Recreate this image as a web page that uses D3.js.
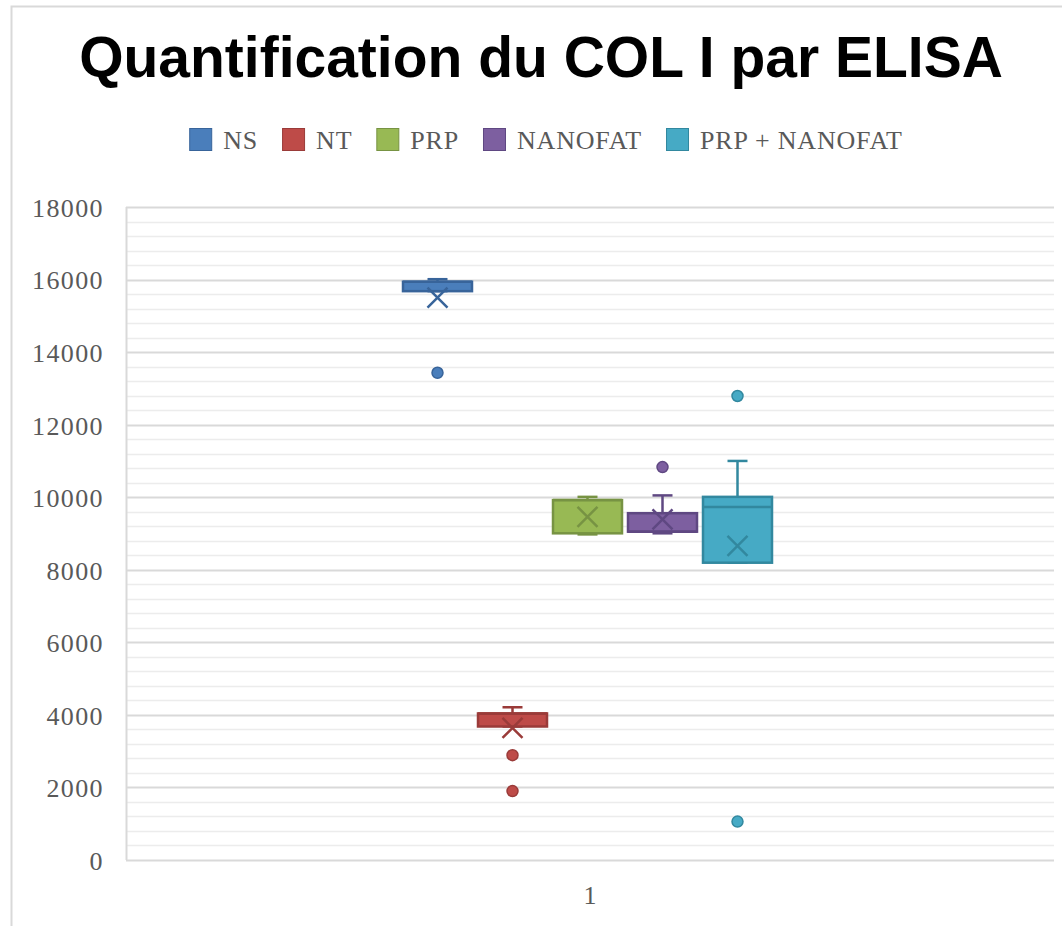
<!DOCTYPE html>
<html>
<head>
<meta charset="utf-8">
<script src="https://cdn.jsdelivr.net/npm/d3@7"></script>
<style>
  body { margin: 0; background: #fff; }
  .axis text { font-family: "Liberation Serif", serif; fill: #595959; }
</style>
</head>
<body>
<script>
var categories = ["1"];
var series = ["NS", "NT", "PRP", "NANOFAT", "PRP + NANOFAT"];
var colors = ["#4A7EBB", "#BE4B48", "#98B954", "#7D5FA0", "#46AAC5"];
var strokes = ["#38649A", "#9A3B39", "#779343", "#5F4882", "#32889F"];

// box stats
var mins    = [15680, 3680, 8975, 9005, 8195];
var q1s     = [15680, 3680, 9005, 9050, 8195];
var medians = [15940, 4040, 9920, 9050, 9730];
var q3s     = [15940, 4040, 9920, 9560, 10010];
var maxs    = [16010, 4210, 10010, 10050, 11000];
var means   = [15500, 3640, 9460, 9390, 8660];
var outliers = [[13430], [2890, 1900], [], [10830], [12790, 1060]];

var yTicks = [0, 2000, 4000, 6000, 8000, 10000, 12000, 14000, 16000, 18000];

var W = 1062, H = 926;
var margin = {top: 207, right: 8, bottom: 66, left: 126},
    width = W - margin.left - margin.right,
    height = H - margin.top - margin.bottom;

var svg = d3.select("body").append("svg")
    .attr("width", W)
    .attr("height", H);

// outer chart border
svg.append("rect")
    .attr("x", 11.5).attr("y", 6.5)
    .attr("width", W).attr("height", H)
    .attr("fill", "none")
    .attr("stroke", "#d9d9d9")
    .attr("stroke-width", 2);

svg.append("text")
    .attr("x", 541)
    .attr("y", 77)
    .attr("text-anchor", "middle")
    .style("font-family", "'Liberation Sans', Arial, sans-serif")
    .style("font-weight", "bold")
    .style("font-size", "57px")
    .text("Quantification du COL I par ELISA");

// legend
var legend = svg.append("g").attr("class", "legend");
var lx = 0;
series.forEach(function(s, i) {
  var item = legend.append("g").attr("transform", "translate(" + lx + ",0)");
  item.append("rect")
    .attr("x", 0.5).attr("y", 128.5)
    .attr("width", 22).attr("height", 22)
    .attr("fill", colors[i])
    .attr("stroke", strokes[i]);
  var t = item.append("text")
    .attr("x", 34)
    .attr("y", 149)
    .style("font-family", "'Liberation Serif', serif")
    .style("font-size", "26px")
    .style("letter-spacing", "0.8px")
    .style("fill", "#595959")
    .text(s);
  lx += 34 + t.node().getComputedTextLength() + 24;
});
legend.attr("transform", "translate(" + (546 - (lx - 24) / 2) + ",0)");

var g = svg.append("g")
    .attr("transform", "translate(" + margin.left + "," + margin.top + ")");

var y = d3.scaleLinear()
    .domain([0, 18000])
    .range([height, 0]);

var x = d3.scaleBand()
    .domain(categories)
    .range([0, width]);

var xs = d3.scaleBand()
    .domain(series)
    .range([x("1") + x.bandwidth() / 2 - 187, x("1") + x.bandwidth() / 2 + 182])
    .paddingInner(0.08)
    .paddingOuter(0);

// minor + major gridlines
g.append("g")
  .selectAll("line")
  .data(d3.range(400, 18001, 400).filter(function(v) { return v % 2000 != 0; }))
  .enter().append("line")
    .attr("x1", 0).attr("x2", width)
    .attr("y1", function(d) { return Math.round(y(d)) + 0.5; })
    .attr("y2", function(d) { return Math.round(y(d)) + 0.5; })
    .attr("stroke", "#ececec")
    .attr("stroke-width", 1.5);

g.append("g")
  .selectAll("line")
  .data(yTicks.slice(1))
  .enter().append("line")
    .attr("x1", 0).attr("x2", width)
    .attr("y1", function(d) { return Math.round(y(d)) + 0.5; })
    .attr("y2", function(d) { return Math.round(y(d)) + 0.5; })
    .attr("stroke", "#d9d9d9")
    .attr("stroke-width", 2);

// axis lines
g.append("line")
    .attr("x1", 0.5).attr("x2", 0.5)
    .attr("y1", 0).attr("y2", height)
    .attr("stroke", "#d9d9d9").attr("stroke-width", 2);
g.append("line")
    .attr("x1", 0).attr("x2", width)
    .attr("y1", height + 0.5).attr("y2", height + 0.5)
    .attr("stroke", "#d9d9d9").attr("stroke-width", 2);

var yAxis = d3.axisLeft(y)
    .tickValues(yTicks)
    .tickSize(0)
    .tickPadding(22)
    .tickFormat(d3.format("d"));

g.append("g")
    .attr("class", "axis")
    .call(yAxis)
    .call(function(s) { s.select(".domain").remove(); })
    .selectAll("text")
      .style("font-size", "26px")
      .style("letter-spacing", "1.4px")
      .attr("dy", "0.36em");

var xAxis = d3.axisBottom(x).tickSize(0).tickPadding(26);
g.append("g")
    .attr("class", "axis")
    .attr("transform", "translate(0," + height + ")")
    .call(xAxis)
    .call(function(s) { s.select(".domain").remove(); })
    .selectAll("text")
      .style("font-size", "26px");

// boxes
var capW = 20, xSize = 10;
series.forEach(function(s, i) {
  var bx = xs(s), bw = xs.bandwidth(), cx = bx + bw / 2;
  var box = g.append("g").attr("class", "box");
  var st = strokes[i];

  box.append("line")
    .attr("x1", cx).attr("x2", cx)
    .attr("y1", y(q3s[i])).attr("y2", y(maxs[i]))
    .attr("stroke", st).attr("stroke-width", 2.5);
  box.append("line")
    .attr("x1", cx).attr("x2", cx)
    .attr("y1", y(q1s[i])).attr("y2", y(mins[i]))
    .attr("stroke", st).attr("stroke-width", 2.5);
  [maxs[i], mins[i]].forEach(function(v) {
    box.append("line")
      .attr("x1", cx - capW / 2).attr("x2", cx + capW / 2)
      .attr("y1", y(v)).attr("y2", y(v))
      .attr("stroke", st).attr("stroke-width", 2.5);
  });

  box.append("rect")
    .attr("x", bx)
    .attr("y", y(q3s[i]))
    .attr("width", bw)
    .attr("height", y(q1s[i]) - y(q3s[i]))
    .attr("fill", colors[i])
    .attr("stroke", st)
    .attr("stroke-width", 2.5);

  box.append("line")
    .attr("x1", bx).attr("x2", bx + bw)
    .attr("y1", y(medians[i])).attr("y2", y(medians[i]))
    .attr("stroke", st).attr("stroke-width", 2.5);

  var my = y(means[i]);
  box.append("path")
    .attr("d", "M" + (cx - xSize) + "," + (my - xSize) + "L" + (cx + xSize) + "," + (my + xSize) +
               "M" + (cx - xSize) + "," + (my + xSize) + "L" + (cx + xSize) + "," + (my - xSize))
    .attr("stroke", st).attr("stroke-width", 2.5).attr("fill", "none");

  box.selectAll(".outlier")
    .data(outliers[i])
    .enter().append("circle")
      .attr("class", "outlier")
      .attr("cx", cx)
      .attr("cy", function(d) { return y(d); })
      .attr("r", 5.5)
      .attr("fill", colors[i])
      .attr("stroke", st)
      .attr("stroke-width", 1.5);
});
</script>
</body>
</html>
